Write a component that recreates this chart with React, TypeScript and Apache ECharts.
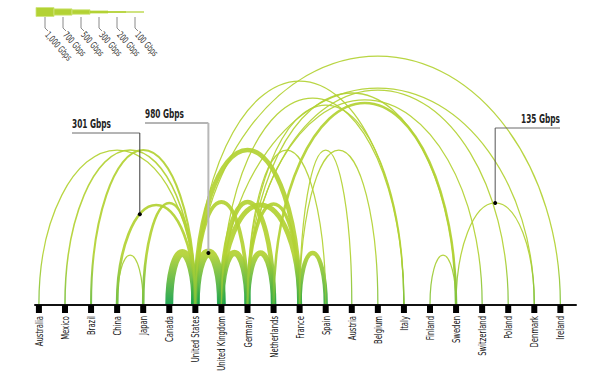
import React, { useEffect, useRef } from "react";
import * as echarts from "echarts";

const countries = [
  "Australia", "Mexico", "Brazil", "China", "Japan", "Canada", "United States",
  "United Kingdom", "Germany", "Netherlands", "France", "Spain", "Austria",
  "Belgium", "Italy", "Finland", "Sweden", "Switzerland", "Poland", "Denmark", "Ireland",
];

// Links: endpoints, bandwidth (Gbps) and arc peak height (y units)
const linkFrom = [
  "Australia", "Mexico", "Brazil", "China", "China", "Japan", "Canada",
  "United States", "United Kingdom", "Germany", "France",
  "United States", "United Kingdom", "United Kingdom", "Germany",
  "United States", "Germany", "France", "France",
  "United States", "United States", "United Kingdom", "Germany", "Netherlands",
  "Germany", "Germany", "Germany", "United Kingdom", "Finland", "Sweden",
];
const linkTo = [
  "United States", "United States", "United States", "Japan", "United States", "United States", "United States",
  "United Kingdom", "Germany", "Netherlands", "Spain",
  "Germany", "Netherlands", "France", "France",
  "France", "Spain", "Austria", "Belgium",
  "Ireland", "Italy", "Italy", "Italy", "Sweden",
  "Sweden", "Switzerland", "Poland", "Denmark", "Sweden", "Denmark",
];
const linkGbps = [
  110, 170, 230, 90, 301, 290, 880,
  980, 700, 620, 480,
  420, 520, 560, 380,
  520, 110, 110, 110,
  110, 110, 130, 120, 280,
  150, 110, 110, 130, 100, 135,
];
const linkHeight = [
  155, 155, 155, 50, 100, 102, 52,
  52, 52, 52, 52,
  103, 103, 100, 101,
  155, 155, 155, 155,
  249, 224, 207, 200, 202,
  212, 205, 215, 217, 50, 102,
];

const legendValues = [1000, 700, 500, 300, 200, 100];
const legendLabels = ["1,000 Gbps", "700 Gbps", "500 Gbps", "300 Gbps", "200 Gbps", "100 Gbps"];

const calloutLinks = [4, 7, 29];
const calloutLabels = ["301 Gbps", "980 Gbps", "135 Gbps"];

const LIGHT = "#b3d234";
const GREEN = "#16a14b";
const FONT = "'Liberation Sans Narrow', 'DejaVu Sans Condensed', 'Roboto', sans-serif";
const K = 0.5523;

const widthOf = (g: number) => Math.max(1.25, g * 0.009);

function mix(a: string, b: string, t: number) {
  const pa = [1, 3, 5].map((i) => parseInt(a.slice(i, i + 2), 16));
  const pb = [1, 3, 5].map((i) => parseInt(b.slice(i, i + 2), 16));
  const c = pa.map((v, i) => Math.round(v + (pb[i] - v) * t));
  return `rgb(${c[0]},${c[1]},${c[2]})`;
}

function measure(text: string, font: string) {
  const ctx = document.createElement("canvas").getContext("2d");
  if (!ctx) return 1;
  ctx.font = font;
  return ctx.measureText(text).width || 1;
}

// callout layout (annotation placement, pixels)
const calloutLayout = [
  { u: -0.42, elbowY: 133, textX: 72, side: "left", vColor: "#3a3a3a", vWidth: 1 },
  { u: 0, elbowY: 123, textX: 145, side: "left", vColor: "#b8b8b8", vWidth: 2 },
  { u: 0, elbowY: 128, textX: 560, side: "right", vColor: "#555", vWidth: 1 },
];

export default function App() {
  const ref = useRef<HTMLDivElement>(null);

  useEffect(() => {
    if (!ref.current) return;
    const chart = echarts.init(ref.current, undefined, { renderer: "svg" });

    const tickFont = `11px ${FONT}`;
    const calloutFont = `bold 12.5px ${FONT}`;
    const legendFont = `9.5px ${FONT}`;
    const tickScale = 55 / measure("United Kingdom", tickFont);
    const calloutScale = 39 / measure("301 Gbps", calloutFont);
    const legendScale = 35 / measure("1,000 Gbps", legendFont);

    const idx = (n: string) => countries.indexOf(n);
    const links = linkFrom.map((f, i) => [idx(f), idx(linkTo[i]), linkGbps[i], linkHeight[i]]);
    const arcData = links.slice().sort((a, b) => b[2] - a[2]);

    const arcPoint = (api: any, link: number[], u: number) => {
      const p1 = api.coord([link[0], 0]);
      const p2 = api.coord([link[1], 0]);
      const top = api.coord([link[0], link[3]]);
      const cx = (p1[0] + p2[0]) / 2;
      const hw = Math.abs(p2[0] - p1[0]) / 2;
      const h = p1[1] - top[1];
      return [cx + u * hw, p1[1] - h * Math.sqrt(Math.max(0, 1 - u * u))];
    };

    const graphics: any[] = [];
    legendValues.forEach((v, i) => {
      const h = widthOf(v);
      const x0 = 36 + i * 18;
      graphics.push({
        type: "rect",
        shape: { x: x0, y: 12 - h / 2, width: 18, height: h },
        style: { fill: LIGHT, stroke: "#cfe47c", lineWidth: i < 3 ? 0.8 : 0 },
      });
      graphics.push({
        type: "polyline",
        shape: { points: [[x0 + 9, 17], [x0 + 9, 28], [x0 + 12, 31]] },
        style: { stroke: "#8a8a8a", lineWidth: 1, fill: null },
      });
      graphics.push({
        type: "text",
        x: x0 + 11,
        y: 33,
        rotation: (-48 * Math.PI) / 180,
        scaleX: legendScale,
        style: { text: legendLabels[i], font: legendFont, fill: "#3a3a3a", align: "left", verticalAlign: "middle" },
      });
    });

    chart.setOption({
      animation: false,
      grid: { left: 35, right: 36, top: 35, bottom: 70 },
      xAxis: {
        type: "value",
        min: -0.15,
        max: 20.6,
        axisLine: { show: true, onZero: false, lineStyle: { color: "#111", width: 2 } },
        axisTick: { show: false },
        axisLabel: { show: false },
        splitLine: { show: false },
      },
      yAxis: { type: "value", min: 0, max: 270, show: false },
      graphic: graphics,
      series: [
        {
          type: "custom",
          silent: true,
          data: arcData,
          renderItem: (params: any, api: any) => {
            const a = api.value(0), b = api.value(1), g = api.value(2), hv = api.value(3);
            const p1 = api.coord([a, 0]);
            const p2 = api.coord([b, 0]);
            const top = api.coord([a, hv]);
            const yb = p1[1] - 1;
            const h = yb - top[1];
            const x1 = p1[0], x2 = p2[0];
            const cx = (x1 + x2) / 2;
            const hw = (x2 - x1) / 2;
            const yt = yb - h;
            const d = `M${x1},${yb} C${x1},${yb - K * h} ${cx - K * hw},${yt} ${cx},${yt} C${cx + K * hw},${yt} ${x2},${yb - K * h} ${x2},${yb}`;
            const w = widthOf(g);
            const t = Math.max(0, Math.min(1, (w - 1) / 4.5));
            const grad = new echarts.graphic.LinearGradient(0, yb - 50, 0, yb, [
              { offset: 0, color: LIGHT },
              { offset: 1, color: mix(LIGHT, GREEN, 0.3 + 0.7 * t) },
            ], true);
            return {
              type: "path",
              shape: { pathData: d },
              style: { fill: "none", stroke: grad, lineWidth: w, opacity: 0.93 },
            };
          },
          z: 2,
        },
        {
          type: "custom",
          silent: true,
          data: countries.map((c, i) => [i, 0]),
          renderItem: (params: any, api: any) => {
            const i = api.value(0);
            const p = api.coord([i, 0]);
            return {
              type: "group",
              children: [
                { type: "rect", shape: { x: p[0] - 3, y: p[1], width: 6, height: 8 }, style: { fill: "#000" } },
                {
                  type: "text",
                  x: p[0],
                  y: p[1] + 11,
                  rotation: Math.PI / 2,
                  scaleX: tickScale,
                  style: { text: countries[i], font: tickFont, fill: "#111", align: "right", verticalAlign: "middle" },
                },
              ],
            };
          },
          z: 5,
        },
        {
          type: "custom",
          silent: true,
          data: calloutLinks.map((l, i) => [i, 0]),
          renderItem: (params: any, api: any) => {
            const i = api.value(0);
            const L = calloutLayout[i];
            const li = calloutLinks[i];
            const link = [idx(linkFrom[li]), idx(linkTo[li]), linkGbps[li], linkHeight[li]];
            const pt = arcPoint(api, link, L.u);
            return {
              type: "group",
              children: [
                {
                  type: "line",
                  shape: { x1: L.textX, y1: L.elbowY, x2: pt[0], y2: L.elbowY },
                  style: { stroke: "#6a6a6a", lineWidth: 1 },
                },
                {
                  type: "line",
                  shape: { x1: pt[0], y1: L.elbowY, x2: pt[0], y2: pt[1] },
                  style: { stroke: L.vColor, lineWidth: L.vWidth },
                },
                { type: "circle", shape: { cx: pt[0], cy: pt[1], r: 2 }, style: { fill: "#000" } },
                {
                  type: "text",
                  x: L.textX,
                  y: L.elbowY - 3,
                  scaleX: calloutScale,
                  style: {
                    text: calloutLabels[i],
                    font: calloutFont,
                    fill: "#222",
                    align: L.side === "left" ? "left" : "right",
                    verticalAlign: "bottom",
                  },
                },
              ],
            };
          },
          z: 6,
        },
      ],
    });

    return () => chart.dispose();
  }, []);

  return (
    <div
      ref={ref}
      style={{ position: "fixed", left: 0, top: 0, width: 612, height: 375, background: "#fff" }}
    />
  );
}
